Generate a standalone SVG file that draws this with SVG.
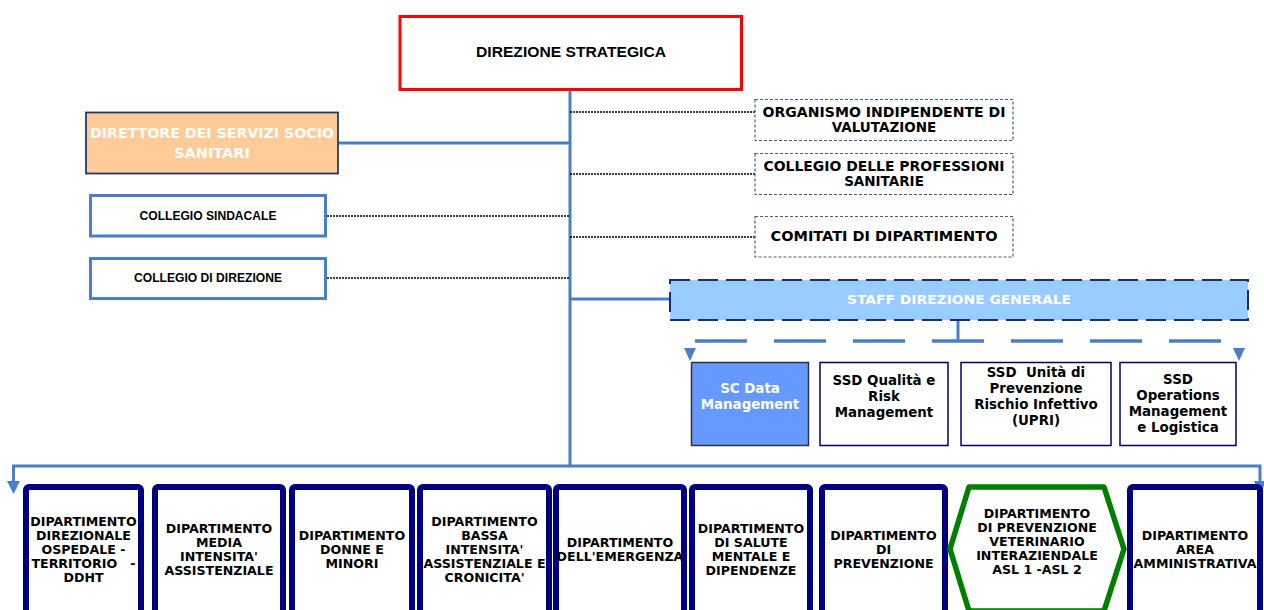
<svg xmlns="http://www.w3.org/2000/svg" width="1264" height="610" viewBox="0 0 1264 610">
<defs>
<style>
text{font-family:"DejaVu Sans","Verdana",sans-serif;font-weight:bold;text-anchor:middle;dominant-baseline:central;fill:#000;white-space:pre}
.ar{font-family:"Liberation Sans",Arial,sans-serif}
.wh{fill:#fff}
.t12{font-size:12.6px}
.t13{font-size:13.4px}
.blue{stroke:#4A7EC8;stroke-width:3;fill:none}
.dot{stroke:#000;stroke-width:1.3;stroke-dasharray:2 1;fill:none}
.dbox{fill:#fff;stroke:#3E5F8F;stroke-width:1.2;stroke-dasharray:3 2}
.dept{fill:#fff;stroke:#000080;stroke-width:6}
.lbox{fill:#fff;stroke:#4A7EC8;stroke-width:3}
.sbox{fill:#fff;stroke:#000066;stroke-width:1.5}
.arrow{fill:#4A7EC8}
</style>
</defs>
<g id="connectors">
<line class="blue" x1="570" y1="90" x2="570" y2="466"/>
<line class="blue" x1="339" y1="143" x2="570" y2="143"/>
<line class="blue" x1="570" y1="299" x2="669" y2="299"/>
<line class="dot" x1="570" y1="112" x2="755" y2="112"/>
<line class="dot" x1="570" y1="174" x2="755" y2="174"/>
<line class="dot" x1="570" y1="237" x2="755" y2="237"/>
<line class="dot" x1="327" y1="216" x2="570" y2="216"/>
<line class="dot" x1="327" y1="278" x2="570" y2="278"/>
<line class="blue" x1="958" y1="320" x2="958" y2="341"/>
<line x1="695" y1="341" x2="1222" y2="341" stroke="#4A7EC8" stroke-width="3.5" stroke-dasharray="52 27"/>
<polygon class="arrow" points="684,348 696,348 690,361"/>
<polygon class="arrow" points="1233,348 1245,348 1239,361"/>
<polyline class="blue" points="13.5,482 13.5,466 1260,466 1260,482"/>
<polygon class="arrow" points="7,481 20,481 13.5,494"/>
<polygon class="arrow" points="1254,481 1266,481 1260,495"/>
</g>
<g id="direzione-strategica">
<rect x="400" y="16.5" width="341.5" height="73" fill="#fff" stroke="#FF0000" stroke-width="3"/>
<text class="ar" x="571" y="52" font-size="14" textLength="190" lengthAdjust="spacingAndGlyphs">DIREZIONE STRATEGICA</text>
</g>
<g id="direttore-servizi-socio-sanitari">
<rect x="86" y="112.5" width="252" height="61" fill="#FFCC99" stroke="#1F3A68" stroke-width="1.8"/>
<text class="wh" x="212" y="133" font-size="13.5" textLength="244" lengthAdjust="spacingAndGlyphs">DIRETTORE DEI SERVIZI SOCIO</text>
<text class="wh" x="212" y="153" font-size="13.5" textLength="76" lengthAdjust="spacingAndGlyphs">SANITARI</text>
</g>
<g id="collegio-sindacale">
<rect class="lbox" x="90.5" y="195.5" width="235" height="40.5"/>
<text class="ar" x="208" y="216" font-size="12" textLength="137" lengthAdjust="spacingAndGlyphs">COLLEGIO SINDACALE</text>
</g>
<g id="collegio-di-direzione">
<rect class="lbox" x="90.5" y="258.5" width="235" height="40"/>
<text class="ar" x="208" y="278" font-size="12" textLength="148" lengthAdjust="spacingAndGlyphs">COLLEGIO DI DIREZIONE</text>
</g>
<g id="organismo-indipendente">
<rect class="dbox" x="755" y="99.5" width="258" height="41"/>
<text x="884" y="112" font-size="13.5" textLength="243" lengthAdjust="spacingAndGlyphs">ORGANISMO INDIPENDENTE DI</text>
<text x="884" y="127" font-size="13.5">VALUTAZIONE</text>
</g>
<g id="collegio-professioni-sanitarie">
<rect class="dbox" x="755" y="153.5" width="258" height="41"/>
<text x="884" y="166" font-size="13.5" textLength="241" lengthAdjust="spacingAndGlyphs">COLLEGIO DELLE PROFESSIONI</text>
<text x="884" y="181" font-size="13.5">SANITARIE</text>
</g>
<g id="comitati-dipartimento">
<rect class="dbox" x="755" y="216.5" width="258" height="40.5"/>
<text x="884" y="236" font-size="13.5" textLength="227" lengthAdjust="spacingAndGlyphs">COMITATI DI DIPARTIMENTO</text>
</g>
<g id="staff-direzione-generale">
<rect x="670" y="280" width="578" height="40" fill="#99CCFF" stroke="#1A2A80" stroke-width="2" stroke-dasharray="20 8"/>
<text class="wh" x="959" y="299" font-size="12.5" textLength="224" lengthAdjust="spacingAndGlyphs">STAFF DIREZIONE GENERALE</text>
</g>
<g id="sc-data-management">
<rect x="691.5" y="362.5" width="117" height="83" fill="#6699FF" stroke="#333" stroke-width="1.5"/>
<text class="wh t13" x="750" y="388">SC Data</text>
<text class="wh t13" x="750" y="404">Management</text>
</g>
<g id="ssd-qualita-risk">
<rect class="sbox" x="820" y="362.5" width="128" height="83"/>
<text class="t13" x="884" y="380">SSD Qualità e</text>
<text class="t13" x="884" y="396">Risk</text>
<text class="t13" x="884" y="412">Management</text>
</g>
<g id="ssd-upri">
<rect class="sbox" x="961" y="362.5" width="150" height="83"/>
<text class="t13" x="1036" y="372">SSD  Unità di</text>
<text class="t13" x="1036" y="388">Prevenzione</text>
<text class="t13" x="1036" y="404">Rischio Infettivo</text>
<text class="t13" x="1036" y="420">(UPRI)</text>
</g>
<g id="ssd-operations">
<rect class="sbox" x="1120" y="362.5" width="116" height="83"/>
<text class="t13" x="1178" y="379">SSD</text>
<text class="t13" x="1178" y="395">Operations</text>
<text class="t13" x="1178" y="411">Management</text>
<text class="t13" x="1178" y="427">e Logistica</text>
</g>
<g id="dip-ddht">
<rect class="dept" x="26" y="487" width="115" height="160" rx="3"/>
<text class="t12" x="83.5" y="521">DIPARTIMENTO</text>
<text class="t12" x="83.5" y="535">DIREZIONALE</text>
<text class="t12" x="83.5" y="549">OSPEDALE -</text>
<text class="t12" x="83.5" y="563">TERRITORIO   -</text>
<text class="t12" x="83.5" y="577">DDHT</text>
</g>
<g id="dip-media-intensita">
<rect class="dept" x="155" y="487" width="128" height="160" rx="3"/>
<text class="t12" x="219" y="528">DIPARTIMENTO</text>
<text class="t12" x="219" y="542">MEDIA</text>
<text class="t12" x="219" y="556">INTENSITA'</text>
<text class="t12" x="219" y="570">ASSISTENZIALE</text>
</g>
<g id="dip-donne-minori">
<rect class="dept" x="292" y="487" width="120" height="160" rx="3"/>
<text class="t12" x="352" y="535">DIPARTIMENTO</text>
<text class="t12" x="352" y="549">DONNE E</text>
<text class="t12" x="352" y="563">MINORI</text>
</g>
<g id="dip-bassa-intensita">
<rect class="dept" x="420" y="487" width="129" height="160" rx="3"/>
<text class="t12" x="484.5" y="521">DIPARTIMENTO</text>
<text class="t12" x="484.5" y="535">BASSA</text>
<text class="t12" x="484.5" y="549">INTENSITA'</text>
<text class="t12" x="484.5" y="563">ASSISTENZIALE E</text>
<text class="t12" x="484.5" y="577">CRONICITA'</text>
</g>
<g id="dip-emergenza">
<rect class="dept" x="556" y="487" width="128" height="160" rx="3"/>
<text class="t12" x="620" y="542">DIPARTIMENTO</text>
<text class="t12" x="620" y="556">DELL'EMERGENZA</text>
</g>
<g id="dip-salute-mentale">
<rect class="dept" x="692" y="487" width="118" height="160" rx="3"/>
<text class="t12" x="751" y="528">DIPARTIMENTO</text>
<text class="t12" x="751" y="542">DI SALUTE</text>
<text class="t12" x="751" y="556">MENTALE E</text>
<text class="t12" x="751" y="570">DIPENDENZE</text>
</g>
<g id="dip-prevenzione">
<rect class="dept" x="822" y="487" width="123" height="160" rx="3"/>
<text class="t12" x="883.5" y="535">DIPARTIMENTO</text>
<text class="t12" x="883.5" y="549">DI</text>
<text class="t12" x="883.5" y="563">PREVENZIONE</text>
</g>
<g id="dip-prevenzione-veterinario">
<polygon points="950,549 969,487 1104,487 1124,549 1104,611 969,611" fill="#fff" stroke="#008000" stroke-width="5.5" stroke-linejoin="round"/>
<text class="t12" x="1037" y="513">DIPARTIMENTO</text>
<text class="t12" x="1037" y="527">DI PREVENZIONE</text>
<text class="t12" x="1037" y="541">VETERINARIO</text>
<text class="t12" x="1037" y="555">INTERAZIENDALE</text>
<text class="t12" x="1037" y="569">ASL 1 -ASL 2</text>
</g>
<g id="dip-area-amministrativa">
<rect class="dept" x="1130" y="487" width="130" height="160" rx="3"/>
<text class="t12" x="1195" y="535">DIPARTIMENTO</text>
<text class="t12" x="1195" y="549">AREA</text>
<text class="t12" x="1195" y="563">AMMINISTRATIVA</text>
</g>
</svg>
